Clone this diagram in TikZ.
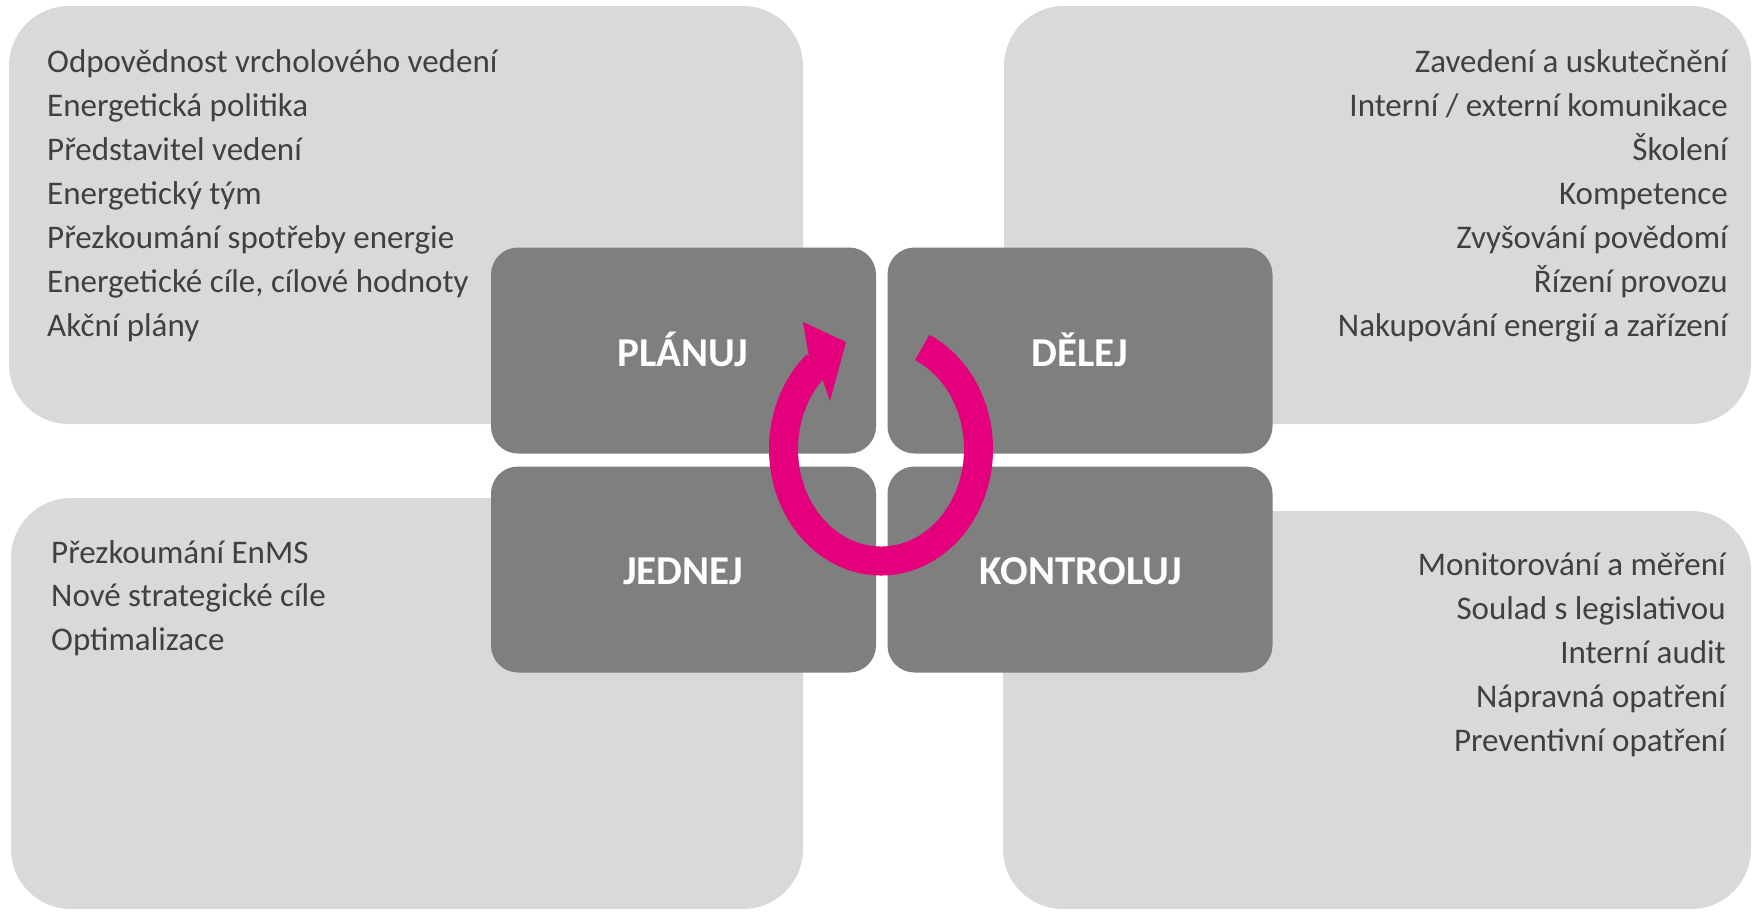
\documentclass[tikz,border=0pt]{standalone}
\usepackage{fontspec}
\setmainfont{Carlito}
\definecolor{panelgrey}{HTML}{D9D9D9}
\definecolor{phasegrey}{HTML}{7F7F7F}
\definecolor{txtgrey}{HTML}{404040}
\definecolor{cyclemag}{HTML}{E4007C}
\begin{document}
\begin{tikzpicture}[x=1pt,y=-1pt,
  panel/.style={fill=panelgrey, rounded corners=60pt},
  phase/.style={fill=phasegrey, rounded corners=27pt, draw=none, inner sep=0pt, minimum width=385pt, minimum height=206pt},
  head/.style={text=white, font=\fontsize{41}{49}\selectfont\bfseries, inner sep=0pt},
  item/.style={text=txtgrey, font=\fontsize{33}{44}\selectfont, inner sep=0pt}]
\useasboundingbox (0,0) rectangle (1753,911);
\fill[white] (0,0) rectangle (1753,911);
% panels
\path[panel] (9,6) rectangle (803,424);
\path[panel] (1004,6) rectangle (1751,424);
\path[panel] (11,498) rectangle (803,909);
\path[panel] (1003,511) rectangle (1751,909);
% phase boxes
\node[phase] (plan) at (683.5,350.5) {};
\node[phase] (do) at (1080,350.5) {};
\node[phase] (act) at (683.5,569.5) {};
\node[phase] (check) at (1080,569.5) {};
\node[head, anchor=base] (planT) at (683,366) {PLÁNUJ};
\node[head, anchor=base] (doT) at (1080,366) {DĚLEJ};
\node[head, anchor=base] (actT) at (683,584) {JEDNEJ};
\node[head, anchor=base] (checkT) at (1081,584) {KONTROLUJ};
% cycle arrow
\coordinate (ringc) at (881,449);
\draw[cyclemag, line width=29pt] ([shift={(-65:97.5 and 112)}]ringc)
  arc[start angle=-65, end angle=229, x radius=97.5, y radius=112];
\fill[cyclemag] (809,357) -- (803,322) -- (846,342) -- (830,401) -- (823,381) -- cycle;
% lists
\foreach \t [count=\i] in {Odpovědnost vrcholového vedení, Energetická politika, Představitel vedení, Energetický tým, Přezkoumání spotřeby energie, {Energetické cíle, cílové hodnoty}, Akční plány}
  \node[item, anchor=base west] (tl\i) at (47,{28+44*\i}) {\t};
\foreach \t [count=\i] in {Zavedení a uskutečnění, Interní / externí komunikace, Školení, Kompetence, Zvyšování povědomí, Řízení provozu, Nakupování energií a zařízení}
  \node[item, anchor=base east] (tr\i) at (1728,{28+44*\i}) {\t};
\foreach \t [count=\i] in {Přezkoumání EnMS, Nové strategické cíle, Optimalizace}
  \node[item, anchor=base west] (bl\i) at (51,{519.5+43.5*\i}) {\t};
\foreach \t [count=\i] in {Monitorování a měření, Soulad s legislativou, Interní audit, Nápravná opatření, Preventivní opatření}
  \node[item, anchor=base east] (br\i) at (1726,{531+44*\i}) {\t};
\end{tikzpicture}
\end{document}
